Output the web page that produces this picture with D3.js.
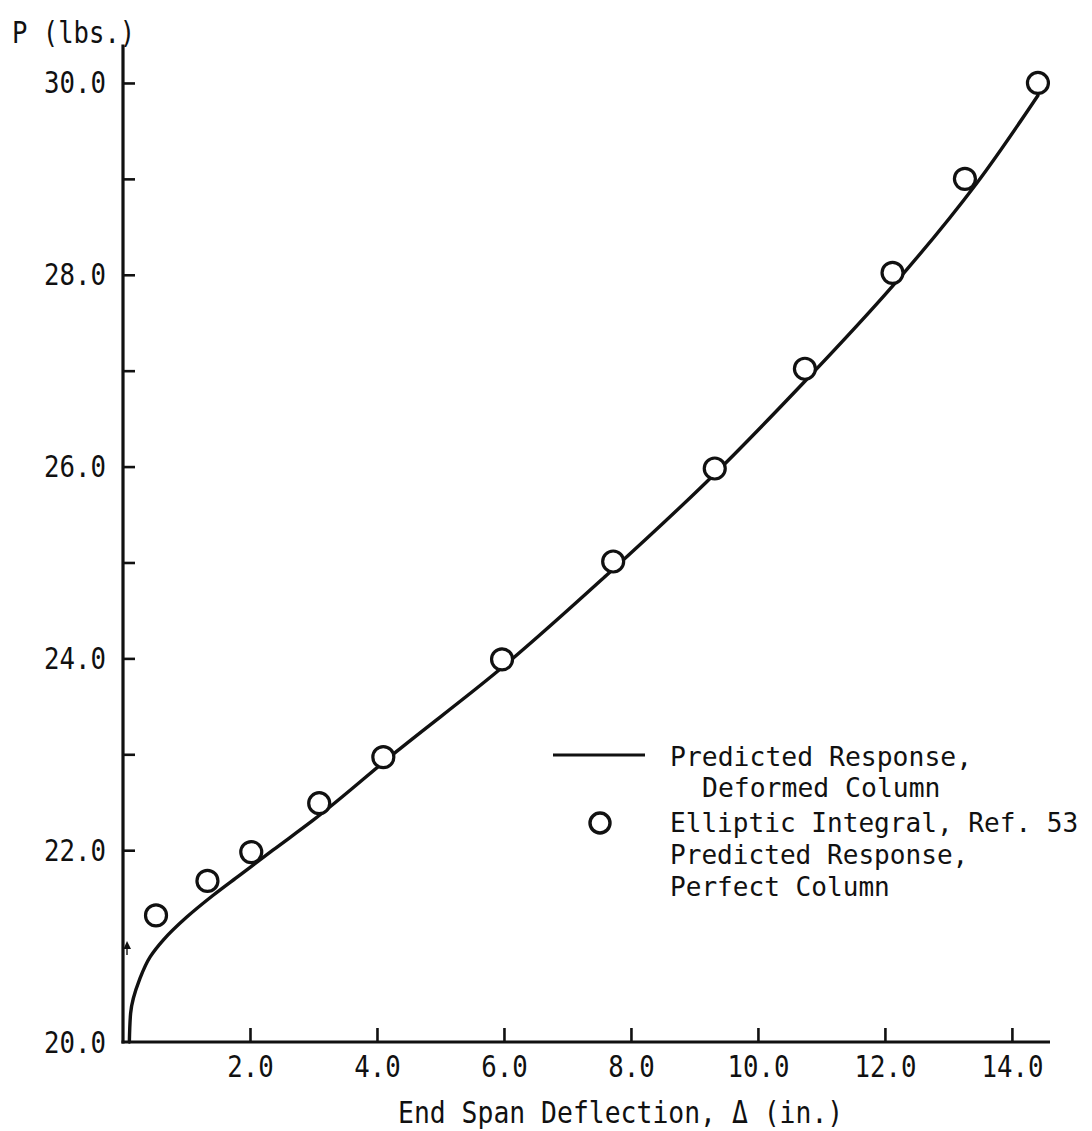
<!DOCTYPE html>
<html>
<head>
<meta charset="utf-8">
<script src="https://cdn.jsdelivr.net/npm/d3@7"></script>
<style>
  html, body { margin: 0; padding: 0; background: #fff; }
  svg { display: block; }
  text { font-family: "DejaVu Sans Mono", "Liberation Mono", monospace; fill: #111; }
</style>
</head>
<body>
<svg id="chart" width="1092" height="1131"></svg>
<script>
// ---- data ----
const curveX = [0.10, 0.12, 0.26, 0.43, 0.63, 1.00, 1.42, 1.84, 2.36, 2.99, 4.31, 5.89, 7.62, 9.19, 10.74, 12.13, 13.44, 14.41];
const curveY = [20.0, 20.3, 20.65, 20.89, 21.06, 21.30, 21.53, 21.74, 22.0, 22.31, 23.03, 23.86, 24.87, 25.84, 26.89, 27.89, 28.95, 29.87];
const pointX = [0.52, 1.33, 2.02, 3.09, 4.10, 5.97, 7.72, 9.32, 10.74, 12.12, 13.26, 14.41];
const pointY = [21.32, 21.68, 21.98, 22.49, 22.97, 23.99, 25.01, 25.98, 27.02, 28.02, 29.0, 30.0];
const xTicks = [2, 4, 6, 8, 10, 12, 14];
const yTicks = [22, 23, 24, 25, 26, 27, 28, 29, 30];
const yArrowTick = 21;
const yLabelTicks = [20, 22, 24, 26, 28, 30];
const xTitle = "End Span Deflection, \u0394 (in.)";
const yTitle = "P (lbs.)";
const legendLine = ["Predicted Response,", "Deformed Column"];
const legendPoint = ["Elliptic Integral, Ref. 53", "Predicted Response,", "Perfect Column"];

// ---- layout ----
const svg = d3.select("#chart");
const x = d3.scaleLinear().domain([0, 14.6]).range([123, 1050]);
const y = d3.scaleLinear().domain([20, 30.4]).range([1042, 44.6]);
const CH = 15.5; // char advance for compressed mono text
const FS = 31;
const LFS = 26.5; // legend font size

function fitText(sel, per) {
  sel.each(function () {
    const t = d3.select(this);
    const s = t.text();
    t.attr("textLength", s.length * per).attr("lengthAdjust", "spacingAndGlyphs");
  });
}

// x axis
const xAxis = d3.axisBottom(x).tickValues(xTicks).tickSizeInner(-14).tickSizeOuter(0)
  .tickPadding(13).tickFormat(d3.format(".1f"));
const gx = svg.append("g").attr("transform", `translate(0,${y(20)})`).call(xAxis);
gx.select(".domain").attr("stroke", "#111").attr("stroke-width", 3.2)
  .attr("d", `M${x(0) - 1.5},0H${x(14.6)}`);
gx.selectAll(".tick line").attr("stroke", "#111").attr("stroke-width", 2.6);
gx.selectAll(".tick text").attr("font-size", FS).attr("font-family", null).attr("fill", "#111")
  .attr("dy", "0.72em").call(fitText, CH);

// y axis
const yAxis = d3.axisLeft(y).tickValues(yTicks).tickSizeInner(-12).tickSizeOuter(0)
  .tickPadding(17).tickFormat(d => yLabelTicks.includes(d) ? d3.format(".1f")(d) : "");
const gy = svg.append("g").attr("transform", `translate(${x(0)},0)`).call(yAxis);
gy.select(".domain").attr("stroke", "#111").attr("stroke-width", 3.2)
  .attr("d", `M0,${y(20) + 1.5}V${y(30.4)}`);
gy.selectAll(".tick line").attr("stroke", "#111").attr("stroke-width", 2.6);
gy.selectAll(".tick text").attr("font-size", FS).attr("font-family", null).attr("fill", "#111")
  .call(fitText, CH);

// 20.0 label at origin
svg.append("text").attr("x", x(0) - 17).attr("y", y(20)).attr("dy", "0.35em")
  .attr("text-anchor", "end").attr("font-size", FS).text(d3.format(".1f")(yLabelTicks[0])).call(fitText, CH);

// little arrow mark at 21
const ay = y(yArrowTick);
svg.append("path").attr("d", `M${x(0) + 0.5},${ay + 3}L${x(0) + 8},${ay + 3}L${x(0) + 4},${ay - 5}Z`)
  .attr("fill", "#111");
svg.append("line").attr("x1", x(0) + 4).attr("x2", x(0) + 4).attr("y1", ay).attr("y2", ay + 9)
  .attr("stroke", "#111").attr("stroke-width", 1.4);

// titles
svg.append("text").attr("x", 12).attr("y", 32).attr("dy", "0.35em").attr("font-size", FS)
  .text(yTitle).call(fitText, 15.4);
svg.append("text").attr("x", 398).attr("y", 1112).attr("dy", "0.35em").attr("font-size", FS)
  .text(xTitle).call(fitText, 15.9);

// curve
const curveData = curveX.map((d, i) => [d, curveY[i]]);
const line = d3.line().x(d => x(d[0])).y(d => y(d[1])).curve(d3.curveMonotoneY);
svg.append("path").datum(curveData).attr("d", line)
  .attr("fill", "none").attr("stroke", "#111").attr("stroke-width", 3.4).attr("stroke-linecap", "round");

// points
svg.append("g").selectAll("circle").data(pointX.map((d, i) => [d, pointY[i]])).join("circle")
  .attr("cx", d => x(d[0])).attr("cy", d => y(d[1])).attr("r", 10.5)
  .attr("fill", "#fff").attr("stroke", "#111").attr("stroke-width", 3.2);

// legend
const lg = svg.append("g");
lg.append("line").attr("x1", 553).attr("x2", 645).attr("y1", 755).attr("y2", 755)
  .attr("stroke", "#111").attr("stroke-width", 2.8);
lg.append("text").attr("x", 670).attr("y", 757).attr("dy", "0.35em").attr("font-size", LFS)
  .text(legendLine[0]).call(fitText, 15.9);
lg.append("text").attr("x", 702).attr("y", 788).attr("dy", "0.35em").attr("font-size", LFS)
  .text(legendLine[1]).call(fitText, 15.9);
lg.append("circle").attr("cx", 600).attr("cy", 823).attr("r", 10)
  .attr("fill", "#fff").attr("stroke", "#111").attr("stroke-width", 3.4);
legendPoint.forEach((s, i) => {
  lg.append("text").attr("x", 670).attr("y", 823 + i * 32).attr("dy", "0.35em").attr("font-size", LFS)
    .text(s).call(fitText, 15.7);
});
</script>
</body>
</html>
